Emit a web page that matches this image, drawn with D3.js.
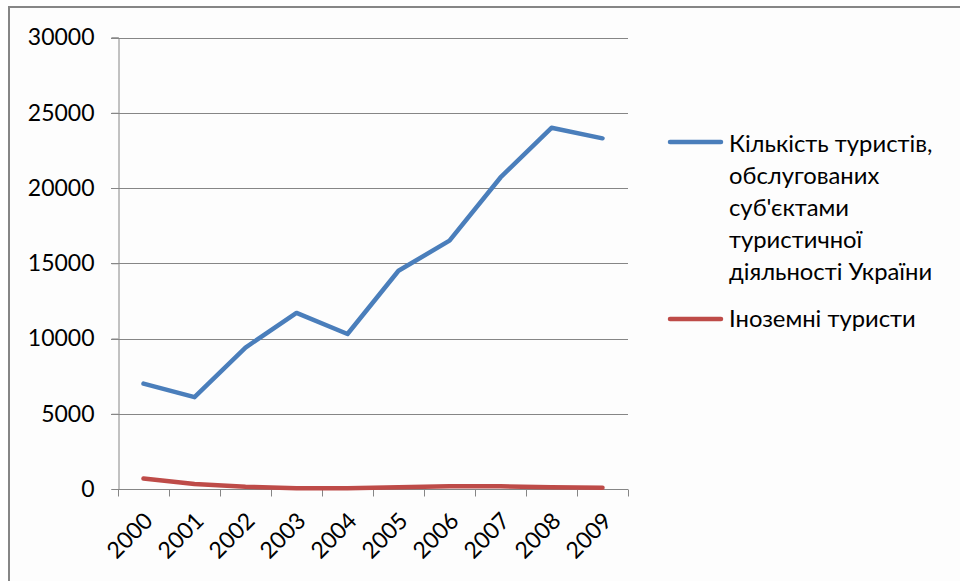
<!DOCTYPE html>
<html>
<head>
<meta charset="utf-8">
<script src="https://cdn.jsdelivr.net/npm/d3@7"></script>
<style>
  html, body { margin: 0; padding: 0; background: #ffffff; }
  svg text { font-family: Lato, "Open Sans", sans-serif; fill: #000; }
</style>
</head>
<body>
<svg id="chart" width="960" height="581"></svg>
<script>
const years = ["2000","2001","2002","2003","2004","2005","2006","2007","2008","2009"];
const seriesNames = ["Кількість туристів, обслугованих суб'єктами туристичної діяльності України", "Іноземні туристи"];
const legendLines1 = ["Кількість туристів,", "обслугованих", "суб'єктами", "туристичної", "діяльності України"];
const legendLines2 = ["Іноземні туристи"];
const touristsServed = [7000, 6100, 9400, 11700, 10300, 14500, 16500, 20700, 24000, 23300];
const foreignTourists = [700, 330, 150, 50, 50, 120, 190, 180, 110, 90];
const yTicks = [0, 5000, 10000, 15000, 20000, 25000, 30000];
const colors = ["#4A7EBB", "#BE4B48"];

const svg = d3.select("#chart");
const plotLeft = 118, plotRight = 628, plotTop = 37.5, plotBottom = 489;

// outer frame
svg.append("rect").attr("x", 9).attr("y", 7).attr("width", 1000).attr("height", 1000)
  .attr("fill", "#fdfdfd").attr("stroke", "#868686").attr("stroke-width", 2);

const x = d3.scaleBand().domain(years).range([plotLeft, plotRight]);
const y = d3.scaleLinear().domain([0, 30000]).range([plotBottom, plotTop]);

// gridlines
svg.append("g").selectAll("line").data(yTicks.filter(d => d > 0)).join("line")
  .attr("x1", plotLeft - 7).attr("x2", plotRight)
  .attr("y1", d => Math.round(y(d)) + 0.5).attr("y2", d => Math.round(y(d)) + 0.5)
  .attr("stroke", "#868686").attr("stroke-width", 1);

// y axis
const yAxis = svg.append("g").attr("transform", `translate(${plotLeft + 0.5},0)`)
  .call(d3.axisLeft(y).tickValues(yTicks).tickSize(7).tickPadding(17).tickFormat(d3.format("d")));
yAxis.select(".domain").attr("stroke", "#868686");
yAxis.selectAll(".tick line").attr("stroke", "#868686");
yAxis.selectAll(".tick text").attr("font-size", 23).attr("font-family", "Lato").attr("fill", "#000");

// x axis
const xAxisG = svg.append("g").attr("transform", `translate(0,${Math.round(plotBottom) + 0.5})`);
xAxisG.append("line").attr("x1", plotLeft).attr("x2", plotRight).attr("stroke", "#868686");
xAxisG.selectAll(".xt").data(d3.range(years.length + 1)).join("line")
  .attr("class", "xt")
  .attr("x1", i => Math.round(plotLeft + i * x.step()) + 0.5)
  .attr("x2", i => Math.round(plotLeft + i * x.step()) + 0.5)
  .attr("y1", 0).attr("y2", 7).attr("stroke", "#868686");
xAxisG.selectAll(".xl").data(years).join("text")
  .attr("class", "xl")
  .attr("text-anchor", "end")
  .attr("font-size", 23)
  .attr("transform", d => `translate(${x(d) + x.bandwidth() / 2 + 5},${27}) rotate(-45)`)
  .attr("dy", "0.35em")
  .text(d => d);

// lines
const line = d3.line().x((d, i) => x(years[i]) + x.bandwidth() / 2).y(d => y(d));
[touristsServed, foreignTourists].forEach((vals, k) => {
  svg.append("path").datum(vals).attr("d", line)
    .attr("fill", "none").attr("stroke", colors[k]).attr("stroke-width", 4.5)
    .attr("stroke-linejoin", "round").attr("stroke-linecap", "round");
});

// legend
const lg = svg.append("g");
const legendDefs = [
  { lines: legendLines1, y0: 151.5, marker: 142, color: colors[0] },
  { lines: legendLines2, y0: 327, marker: 319, color: colors[1] }
];
legendDefs.forEach(def => {
  lg.append("line").attr("x1", 670).attr("x2", 721).attr("y1", def.marker).attr("y2", def.marker)
    .attr("stroke", def.color).attr("stroke-width", 4.5).attr("stroke-linecap", "round");
  const t = lg.append("text").attr("x", 729).attr("y", def.y0).attr("font-size", 23.8);
  def.lines.forEach((s, i) => {
    t.append("tspan").attr("x", 729).attr("y", def.y0 + i * 32).text(s);
  });
});
</script>
</body>
</html>
